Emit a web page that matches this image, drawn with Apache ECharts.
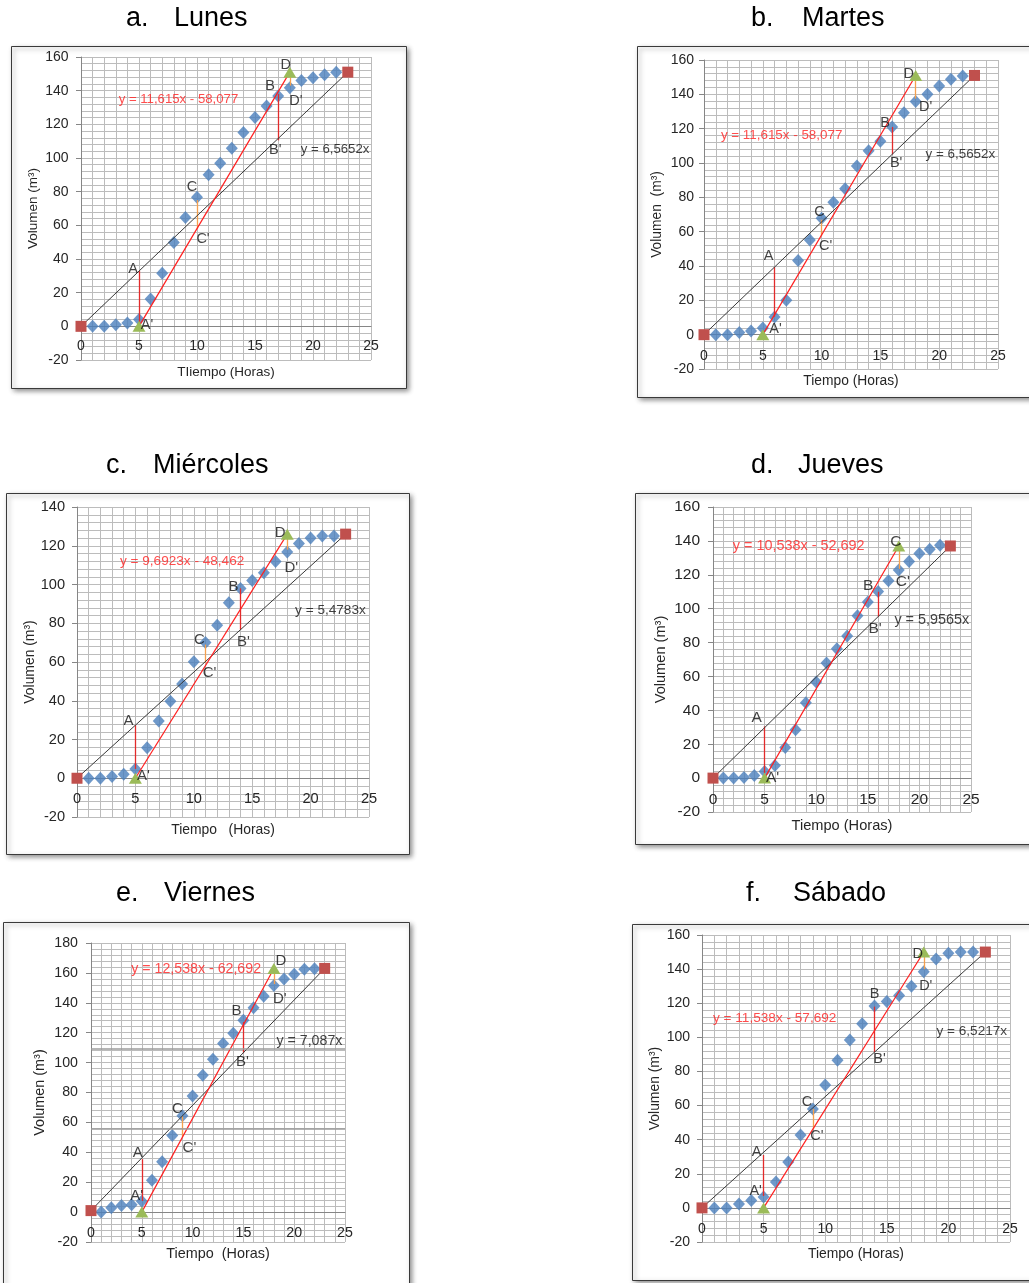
<!DOCTYPE html>
<html><head><meta charset="utf-8">
<script src="https://cdn.jsdelivr.net/npm/echarts@6/dist/echarts.min.js"></script>
<style>html,body{margin:0;padding:0;background:#fff}#c{width:1029px;height:1283px}</style>
</head><body><div id="c"></div>
<script>
// ---------- DATA ----------
const horas = [1,2,3,4,5,6,7,8,9,10,11,12,13,14,15,16,17,18,19,20,21,22];

const volLunes     = [0,0,1,2,4,16.2,31.6,49.8,64.7,76.7,90,96.9,105.8,115.1,124,130.9,136.9,141.8,146,147.7,149.5,150.9];
const volMartes    = [0,0,1.2,2.1,3.9,10.3,20.1,43.2,55.2,67.8,77.1,85,98.2,107.1,112.7,120.9,129.2,135.8,140,144.9,148.8,150.7];
const volMiercoles = [0,0,0.9,2.1,4.8,15.7,29.6,39.8,48.6,60.1,70.1,79,90.6,98,102.1,106.1,111.9,116.8,121.1,124,125,125];
const volJueves    = [0,0,0.4,1.6,3.9,7.5,18.1,28.5,44.5,56.7,67.9,76.4,83.8,95.8,103.9,110.2,116.5,122.8,127.9,132.5,135,137.4];
const volViernes   = [0,2.9,4.4,4.9,7.3,21.3,33.6,51.3,64.4,77.6,91.6,102.2,112.7,119.6,128.4,136.7,144.4,151.6,156,159.1,162.4,162.7];
const volSabado    = [0,0,2.3,4.3,6.4,15.2,26.9,42.7,58,72,86.6,98.5,107.9,118.4,121,124.5,130,138.5,146,149.3,150,150];

// first/last points (red squares) -> black line y = m x
const extremosLunes = [[0,0],[23,151]];
const extremosMartes = [[0,0],[23,151]];
const extremosMiercoles = [[0,0],[23,126]];
const extremosJueves = [[0,0],[23,137]];
const extremosViernes = [[0,1],[23,163]];
const extremosSabado = [[0,0],[23,150]];

// green triangles -> red line
const ajusteLunes = [[5,0],[18,151]];
const ajusteMartes = [[5,0],[18,151]];
const ajusteMiercoles = [[5,0],[18,126]];
const ajusteJueves = [[5,0],[18,137]];
const ajusteViernes = [[5,0],[18,163]];
const ajusteSabado = [[5,0],[18,150]];

// vertical segments: letter, x, upper value, lower value, kind (r = red, o = orange)
const tramosLunes = [['A',5,32.8,0,'r'],['B',17,138,110.5,'r'],['C',10,75,58,'o'],['D',18,150,143,'o']];
const tramosMartes = [['A',6,39.4,10.5,'r'],['B',16,121,105,'r'],['C',10,67,57.5,'o'],['D',18,150,137.5,'o']];
const tramosMiercoles = [['A',5,27.4,4.8,'r'],['B',14,98,76.7,'r'],['C',11,69,59.5,'o'],['D',18,125,118,'o']];
const tramosJueves = [['A',5,30.5,3,'r'],['B',16,110,95.3,'r'],['C',18,135,123.5,'o']];
const tramosViernes = [['A',5,35.4,7.5,'r'],['B',15,127,106.3,'r'],['C',9,64,50.5,'o'],['D',18,161,152.5,'o']];
const tramosSabado = [['A',5,31,7,'r'],['B',14,118,91.3,'r'],['C',9,58,46.2,'o'],['D',18,149,140,'o']];

const ecuacionesLunes = ['y = 11,615x - 58,077','y = 6,5652x'];
const ecuacionesMartes = ['y = 11,615x - 58,077','y = 6,5652x'];
const ecuacionesMiercoles = ['y = 9,6923x - 48,462','y = 5,4783x'];
const ecuacionesJueves = ['y = 10,538x - 52,692','y = 5,9565x'];
const ecuacionesViernes = ['y = 12,538x - 62,692','y = 7,087x'];
const ecuacionesSabado = ['y = 11,538x - 57,692','y = 6,5217x'];

const titulos = [['a.','Lunes'],['b.','Martes'],['c.','Miércoles'],['d.','Jueves'],['e.','Viernes'],['f.','Sábado']];
const nombresX = ['TIiempo (Horas)','Tiempo (Horas)','Tiempo   (Horas)','Tiempo (Horas)','Tiempo  (Horas)','Tiempo (Horas)'];
const nombresY = ['Volumen (m³)','Volumen  (m³)','Volumen (m³)','Volumen (m³)','Volumen (m³)','Volumen (m³)'];
const yMinimo = -20;
const yMaximos = [160,160,140,160,180,160];
const guiasViernes = [56,109];

// ---------- LAYOUT ----------
const layout = [
 {grid:[81,57,290,303], frame:[11.5,46.5,395,342], title:[126,174,19], tick:14, nm:13.5, eq:13.2, let:14.5, yGap:41, xGap:39, xM:13, yM:12.5,
  eqPos:[[8.4,135],[21.9,105]],
  off:{'A':[-6,-2],"A'":[8,-1],'B':[-8,-8],"B'":[-3,10],'C':[-5,-13],"C'":[6,10],'D':[-4,-9],"D'":[6,15]}},
 {grid:[704,60,294,309], frame:[637.5,46.5,420,351], title:[751,802,19], tick:14, nm:13.8, eq:13.4, let:14.5, yGap:40, xGap:39.5, xM:14, yM:10,
  eqPos:[[6.6,116],[21.8,105]],
  off:{'A':[-6,-11],"A'":[1,12],'B':[-7,-4],"B'":[4,9],'C':[-2,-8],"C'":[4,10],'D':[-7,-3],"D'":[10,8]}},
 {grid:[77,507,292,310], frame:[6.5,493.5,403,361], title:[106,153,466], tick:14.6, nm:13.9, eq:13.6, let:15, yGap:40, xGap:45, xM:13.5, yM:12,
  eqPos:[[9.0,112],[21.7,86.6]],
  off:{'A':[-7,-4],"A'":[8,7],'B':[-7,-2],"B'":[3,12],'C':[-6,-5],"C'":[4,10],'D':[-7,-3],"D'":[4,18]}},
 {grid:[713,507,258,305], frame:[635.5,493.5,420,351], title:[751,798,466], tick:15.5, nm:14.6, eq:14.4, let:15.5, yGap:44.5, xGap:40, xM:14, yM:13,
  eqPos:[[8.3,137],[21.2,93]],
  off:{'A':[-8,-9],"A'":[8,5],'B':[-10,-6],"B'":[-3,12],'C':[-3,-8],"C'":[4,13]}},
 {grid:[91,943,254,299], frame:[3.5,922.5,406,420], title:[116,164,894], tick:14.2, nm:14.4, eq:14.2, let:15, yGap:43.5, xGap:34.5, xM:14, yM:13,
  eqPos:[[10.35,162.4],[21.5,114.7]],
  off:{'A':[-4,-6],"A'":[-5,-5],'B':[-7,-11],"B'":[-1,9],'C':[-5,-8],"C'":[7,11],'D':[7,-11],"D'":[6,15]}},
 {grid:[702,935,308,307], frame:[632.5,924.5,420,356], title:[746,793,894], tick:14, nm:13.9, eq:13.6, let:14.5, yGap:40, xGap:39, xM:14, yM:12,
  eqPos:[[5.9,111],[21.9,103.8]],
  off:{'A':[-7,-3],"A'":[-8,-5],'B':[0,-13],"B'":[5,7],'C':[-6,-7],"C'":[4,7],'D':[-6,0],"D'":[2,17]}}
];

const paneles = [
 {vol:volLunes, ext:extremosLunes, aj:ajusteLunes, tr:tramosLunes, eq:ecuacionesLunes},
 {vol:volMartes, ext:extremosMartes, aj:ajusteMartes, tr:tramosMartes, eq:ecuacionesMartes},
 {vol:volMiercoles, ext:extremosMiercoles, aj:ajusteMiercoles, tr:tramosMiercoles, eq:ecuacionesMiercoles},
 {vol:volJueves, ext:extremosJueves, aj:ajusteJueves, tr:tramosJueves, eq:ecuacionesJueves},
 {vol:volViernes, ext:extremosViernes, aj:ajusteViernes, tr:tramosViernes, eq:ecuacionesViernes},
 {vol:volSabado, ext:extremosSabado, aj:ajusteSabado, tr:tramosSabado, eq:ecuacionesSabado}
];

const F = '"Liberation Sans", Arial, sans-serif';
const TXT = '#262626';
const GRIDC = '#bcbcbc';
const AXC = '#868686';
const SEGC = {r:'#e32b2b', o:'#f5a04e'};

const option = {animation:false, backgroundColor:'#fff', grid:[], xAxis:[], yAxis:[], series:[], graphic:[]};

paneles.forEach((p,i)=>{
  const L = layout[i];
  const yMax = yMaximos[i];
  // shift the x axis (line, labels, name) up to the y = 0 line
  const zeroShift = -L.grid[3] * (0 - yMinimo) / (yMax - yMinimo);
  option.grid.push({left:L.grid[0], top:L.grid[1], width:L.grid[2], height:L.grid[3]});
  option.xAxis.push({
    gridIndex:i, type:'value', min:0, max:25, interval:5, position:'bottom', offset:zeroShift,
    name:nombresX[i], nameLocation:'middle', nameGap:L.xGap, nameMoveOverlap:false,
    nameTextStyle:{fontFamily:F, fontSize:L.nm, color:TXT},
    axisLine:{show:true, onZero:false, lineStyle:{color:AXC, width:1}},
    axisTick:{show:false},
    axisLabel:{margin:L.xM, fontFamily:F, fontSize:L.tick, color:TXT, showMinLabel:true, showMaxLabel:true, hideOverlap:false},
    splitLine:{show:true, lineStyle:{color:GRIDC, width:1}},
    minorTick:{show:false, splitNumber:5},
    minorSplitLine:{show:true, lineStyle:{color:GRIDC, width:1}}
  });
  option.yAxis.push({
    gridIndex:i, type:'value', min:yMinimo, max:yMax, interval:20,
    name:nombresY[i], nameLocation:'middle', nameGap:L.yGap, nameMoveOverlap:false,
    nameTextStyle:{fontFamily:F, fontSize:L.nm, color:TXT},
    axisLine:{show:true, onZero:false, lineStyle:{color:AXC, width:1}},
    axisTick:{show:true, inside:false, length:5, lineStyle:{color:AXC}},
    axisLabel:{margin:L.yM, fontFamily:F, fontSize:L.tick, color:TXT, showMinLabel:true, showMaxLabel:true},
    splitLine:{show:true, lineStyle:{color:GRIDC, width:1}},
    minorTick:{show:false, splitNumber:5},
    minorSplitLine:{show:true, lineStyle:{color:GRIDC, width:1}}
  });

  const diam = {
    type:'scatter', xAxisIndex:i, yAxisIndex:i, silent:true, z:2,
    symbol:'diamond', symbolSize:[12,13], itemStyle:{color:'#4a7ebb'},
    data: horas.map((h,j)=>[h, p.vol[j]])
  };
  if (i === 4) {
    diam.markLine = {silent:true, symbol:'none', label:{show:false},
      lineStyle:{color:'#9c9c9c', width:1.6, type:'solid'},
      data: guiasViernes.map(v=>({yAxis:v}))};
  }
  option.series.push(diam);

  option.series.push({
    type:'lines', coordinateSystem:'cartesian2d', xAxisIndex:i, yAxisIndex:i, silent:true, z:3,
    data: p.tr.map(t=>({coords:[[t[1],t[2]],[t[1],t[3]]], lineStyle:{color:SEGC[t[4]], width:1.3, opacity:1}}))
  });

  option.series.push({
    type:'line', xAxisIndex:i, yAxisIndex:i, silent:true, z:4,
    data:p.ext, symbol:'rect', symbolSize:11, showSymbol:true,
    itemStyle:{color:'#c0504d'}, lineStyle:{color:'#3a3a3a', width:1}
  });
  option.series.push({
    type:'line', xAxisIndex:i, yAxisIndex:i, silent:true, z:4,
    data:p.aj, symbol:'triangle', symbolSize:[13,11], showSymbol:true,
    itemStyle:{color:'#9bbb59'}, lineStyle:{color:'#ff1f1f', width:1.2}
  });

  const labs = [];
  p.tr.forEach(t=>{
    labs.push({value:[t[1],t[2]], name:t[0]});
    labs.push({value:[t[1],t[3]], name:t[0]+"'"});
  });
  option.series.push({
    type:'scatter', xAxisIndex:i, yAxisIndex:i, silent:true, z:6,
    symbolSize:1, itemStyle:{color:'rgba(0,0,0,0)'},
    data: labs.map(d=>({value:d.value, name:d.name,
      label:{show:true, position:'inside', offset:L.off[d.name]||[0,0], formatter:d.name,
        fontFamily:F, fontSize:L.let, color:'#111', align:'center', verticalAlign:'middle'}}))
  });
  option.series.push({
    type:'scatter', xAxisIndex:i, yAxisIndex:i, silent:true, z:6,
    symbolSize:1, itemStyle:{color:'rgba(0,0,0,0)'},
    data:[
      {value:L.eqPos[0], label:{show:true, position:'inside', formatter:p.eq[0], fontFamily:F, fontSize:L.eq, color:'#ff2020', align:'center', verticalAlign:'middle'}},
      {value:L.eqPos[1], label:{show:true, position:'inside', formatter:p.eq[1], fontFamily:F, fontSize:L.eq, color:'#111', align:'center', verticalAlign:'middle'}}
    ]
  });

  option.graphic.push({type:'rect', z:-10, silent:true,
    shape:{x:L.frame[0], y:L.frame[1], width:L.frame[2], height:L.frame[3]},
    style:{fill:'#fff', stroke:'#3a3a3a', lineWidth:1, shadowBlur:5, shadowOffsetX:2, shadowOffsetY:2, shadowColor:'rgba(0,0,0,0.45)'}});
  option.graphic.push({type:'text', z:5, silent:true, x:L.title[0], y:L.title[2],
    style:{text:titulos[i][0], font:'27px "Liberation Sans", Arial, sans-serif', fill:'#000', textAlign:'left', textVerticalAlign:'middle', align:'left', verticalAlign:'middle'}});
  option.graphic.push({type:'text', z:5, silent:true, x:L.title[1], y:L.title[2],
    style:{text:titulos[i][1], font:'27px "Liberation Sans", Arial, sans-serif', fill:'#000', textAlign:'left', textVerticalAlign:'middle', align:'left', verticalAlign:'middle'}});
});

const chart = echarts.init(document.getElementById('c'), null, {renderer:'canvas'});
chart.setOption(option);
</script>
</body></html>
